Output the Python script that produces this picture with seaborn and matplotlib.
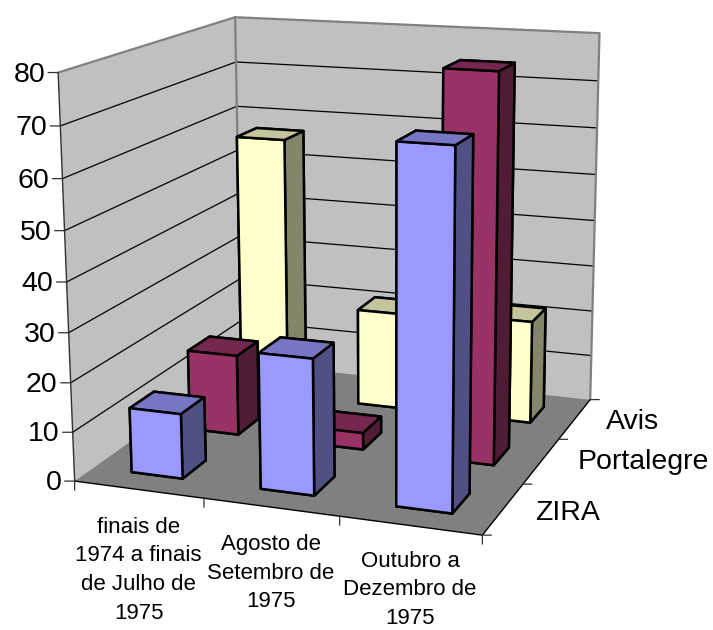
import numpy as np
import seaborn as sns
import matplotlib
matplotlib.use('Agg')
from matplotlib import pyplot as plt
from mpl_toolkits.mplot3d import proj3d
from mpl_toolkits.mplot3d.art3d import Poly3DCollection

# values
periods = ['finais de\n1974 a finais\nde Julho de\n1975', 'Agosto de\nSetembro de\n1975', 'Outubro a\nDezembro de\n1975']
series = ['ZIRA', 'Portalegre', 'Avis']
zira = [13.2, 27.2, 69.5]
portalegre = [17, 3.5, 78.6]
avis = [57, 21, 22]
z_ticks = [0, 10, 20, 30, 40, 50, 60, 70, 80]

sns.set_theme(style='white', font='Liberation Sans')
palette = sns.color_palette(['#9999FF', '#993366', '#FFFFCC'])

W, H = 713, 630
S = 682.17  # square axes side in pixels, from fitting the camera to the corners
fig = plt.figure(figsize=(W / 100, H / 100), dpi=100, facecolor='white')
ax = fig.add_axes([-4.28 / W, 30.2 / H, S / W, S / H], projection='3d', computed_zorder=False)
ax.set_xlim(0, 3)
ax.set_ylim(0, 3)
ax.set_zlim(0, 80)
ax.view_init(14.036, -69.625, 0.313)
ax.set_proj_type('persp', focal_length=0.545)
ax.set_box_aspect((1, 0.998, 0.971))
ax.set_axis_off()
ax.patch.set_alpha(0)

# walls and floor
walls = [[(0, 0, 0), (0, 3, 0), (0, 3, 80), (0, 0, 80)],
         [(0, 3, 0), (3, 3, 0), (3, 3, 80), (0, 3, 80)]]
floor = [[(0, 0, 0), (3, 0, 0), (3, 3, 0), (0, 3, 0)]]
ax.add_collection3d(Poly3DCollection(walls, facecolor='#C0C0C0', edgecolor='none', zorder=1))
ax.add_collection3d(Poly3DCollection(floor, facecolor='#808080', edgecolor='none', zorder=1))

#gridlines on both walls
for z in z_ticks[1:-1]:
    ax.plot([0, 0, 3], [0, 3, 3], [z, z, z], color='black', lw=0.9, zorder=2)

# box outline
grey = '#808080'
ax.plot([0, 0, 3, 3], [0, 3, 3, 3], [80, 80, 80, 0], color=grey, lw=1.6, zorder=3)
ax.plot([0, 0], [3, 3], [0, 80], color=grey, lw=1.6, zorder=3)
ax.plot([0, 0], [0, 0], [0, 80], color='#303030', lw=1.0, zorder=3)
ax.plot([0, 3, 3], [0, 0, 3], [0, 0, 0], color='black', lw=1.0, zorder=3)

# bars, back row first so the front ones cover them
rows = [zira, portalegre, avis]
width = 0.4
z = 10
for j in [2, 1, 0]:
    c = np.array(palette[j])
    # faces: bottom, top, front, back, left, right
    faces = [c * 0.5, c * 0.77, c, c, c, c * 0.52]
    for i in range(3):
        b = ax.bar3d(i + 0.3, j + 0.3, 0, width, width, rows[j][i], color=faces, shade=False)
        b.set_edgecolor('black')
        b.set_linewidth(1.8)
        b.set_zorder(z)
        z += 1
ax.set_xlim(0, 3)
ax.set_ylim(0, 3)
ax.set_zlim(0, 80)

M = ax.get_proj()


def project(x, y, z):
    px, py, _ = proj3d.proj_transform(x, y, z, M)
    return float(px), float(py)


def tick(x, y, z, dx, dy):
    ax.annotate('', xy=project(x, y, z), xytext=(dx, dy), textcoords='offset pixels', annotation_clip=False,
                arrowprops=dict(arrowstyle='-', color='#303030', lw=0.9, shrinkA=0, shrinkB=0))


# axis ticks and labels
for v in z_ticks:
    tick(0, 0, v, -10, 0)
    ax.annotate(str(v), xy=project(0, 0, v), xytext=(-13, -2), textcoords='offset pixels', ha='right', va='center',
                fontsize=20.5, color='black', annotation_clip=False)
for i in range(4):
    tick(i, 0, 0, 0, -9)
    tick(3, i, 0, 9, 0)
for i, (label, dy) in enumerate(zip(periods, [-27, -27, -25])):
    ax.annotate(label, xy=project(i + 0.5, 0, 0), xytext=(0, dy), textcoords='offset pixels', ha='center', va='top',
                fontsize=16, linespacing=1.48, color='black', annotation_clip=False)
for j, (label, dx, dy) in enumerate(zip(series, [32, 36, 31], [-4, -1, -3])):
    ax.annotate(label, xy=project(3, j + 0.5, 0), xytext=(dx, dy), textcoords='offset pixels', ha='left', va='center',
                fontsize=20.5, color='black', annotation_clip=False)

fig.savefig('out.png', dpi=100)
